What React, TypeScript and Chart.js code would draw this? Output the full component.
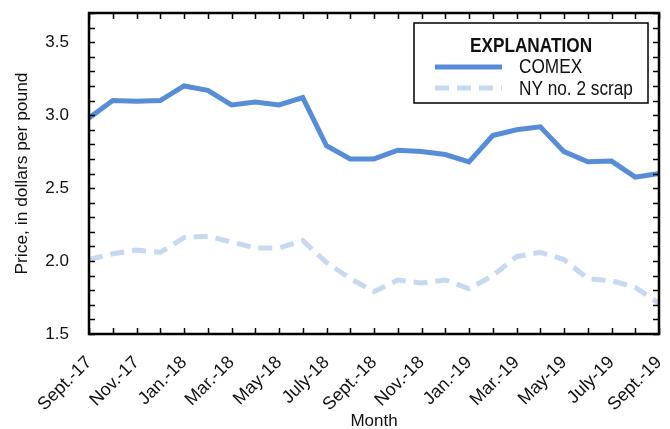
import React, { useEffect, useRef } from "react";
import { Chart, registerables } from "chart.js";

Chart.register(...registerables);

const months = [
  "Sept.-17", "Oct.-17", "Nov.-17", "Dec.-17", "Jan.-18", "Feb.-18", "Mar.-18",
  "Apr.-18", "May-18", "June-18", "July-18", "Aug.-18", "Sept.-18", "Oct.-18",
  "Nov.-18", "Dec.-18", "Jan.-19", "Feb.-19", "Mar.-19", "Apr.-19", "May-19",
  "June-19", "July-19", "Aug.-19", "Sept.-19",
];

const comex = [
  2.98, 3.10, 3.095, 3.10, 3.20, 3.17, 3.07, 3.09, 3.07, 3.12, 2.79, 2.70, 2.70,
  2.76, 2.75, 2.73, 2.68, 2.86, 2.90, 2.92, 2.75, 2.68, 2.685, 2.575, 2.60,
];

const nyScrap = [
  2.01, 2.05, 2.075, 2.06, 2.16, 2.17, 2.13, 2.09, 2.09, 2.14, 1.99, 1.88, 1.79,
  1.87, 1.85, 1.87, 1.81, 1.90, 2.03, 2.06, 2.01, 1.88, 1.865, 1.82, 1.71,
];

const yTickValues = [1.5, 2.0, 2.5, 3.0, 3.5];

const legendTitle = "EXPLANATION";
const legendLabels = ["COMEX", "NY no. 2 scrap"];

const COMEX_COLOR = "rgb(86,141,214)";
const NY_COLOR = "rgb(198,217,240)";
const SANS = "'Liberation Sans', Arial, sans-serif";

const framePlugin = {
  id: "frame",
  afterDatasetsDraw(chart: any) {
    const { ctx, chartArea } = chart;
    const { left, right, top, bottom } = chartArea;
    const x = chart.scales.x;
    const y = chart.scales.y;
    ctx.save();
    ctx.strokeStyle = "#000";
    ctx.lineWidth = 1.5;
    ctx.beginPath();
    for (let i = 0; i <= 22; i++) {
      const v = 1.5 + i * 0.1;
      const py = Math.round(y.getPixelForValue(v)) + 0.5;
      ctx.moveTo(left, py);
      ctx.lineTo(left + 6, py);
      ctx.moveTo(right, py);
      ctx.lineTo(right - 6, py);
    }
    for (let i = 0; i < months.length; i++) {
      const px = Math.round(x.getPixelForValue(i)) + 0.5;
      ctx.moveTo(px, top);
      ctx.lineTo(px, top + 6);
      ctx.moveTo(px, bottom);
      ctx.lineTo(px, bottom - 6);
    }
    ctx.stroke();
    ctx.lineWidth = 2.5;
    ctx.strokeRect(left, top, right - left, bottom - top);

    // legend ("EXPLANATION" box)
    const bx = 414, by = 23, bw = 234, bh = 80;
    ctx.fillStyle = "#fff";
    ctx.fillRect(bx, by, bw, bh);
    ctx.lineWidth = 1.5;
    ctx.strokeRect(bx, by, bw, bh);
    ctx.fillStyle = "#111";
    ctx.textBaseline = "middle";
    const narrowText = (t: string, tx: number, ty: number, font: string, align: string) => {
      ctx.save();
      ctx.font = font;
      ctx.textAlign = align;
      ctx.translate(tx, ty);
      ctx.scale(0.82, 1);
      ctx.fillText(t, 0, 0);
      ctx.restore();
    };
    narrowText(legendTitle, 531, 46, `bold 21px ${SANS}`, "center");
    narrowText(legendLabels[0], 519, 67, `21px ${SANS}`, "left");
    narrowText(legendLabels[1], 519, 89, `21px ${SANS}`, "left");
    ctx.lineWidth = 5;
    ctx.strokeStyle = COMEX_COLOR;
    ctx.beginPath();
    ctx.moveTo(435, 67);
    ctx.lineTo(502, 67);
    ctx.stroke();
    ctx.strokeStyle = NY_COLOR;
    ctx.setLineDash([14, 8]);
    ctx.beginPath();
    ctx.moveTo(435, 88);
    ctx.lineTo(502, 88);
    ctx.stroke();
    ctx.restore();
  },
};

export default function App() {
  const ref = useRef<HTMLCanvasElement>(null);
  useEffect(() => {
    const chart = new Chart(ref.current!, {
      type: "line",
      data: {
        labels: months,
        datasets: [
          {
            label: legendLabels[0],
            data: comex,
            borderColor: COMEX_COLOR,
            borderWidth: 5,
            pointRadius: 0,
            tension: 0,
          },
          {
            label: legendLabels[1],
            data: nyScrap,
            borderColor: NY_COLOR,
            borderWidth: 5,
            borderDash: [14, 8],
            pointRadius: 0,
            tension: 0,
          },
        ],
      },
      options: {
        animation: false,
        responsive: false,
        layout: { padding: { top: 13, right: 11, left: 0, bottom: 0 } },
        plugins: { legend: { display: false }, tooltip: { enabled: false } },
        scales: {
          x: {
            type: "category",
            offset: false,
            grid: { display: false, drawTicks: false },
            border: { display: false },
            ticks: {
              autoSkip: false,
              minRotation: 45,
              maxRotation: 45,
              padding: 18,
              color: "#111",
              font: { family: SANS, size: 18 },
              callback: (_v: any, i: number) => (i % 2 === 0 ? months[i] : ""),
            },
            title: {
              display: true,
              text: "Month",
              color: "#111",
              font: { family: SANS, size: 17 },
              padding: { top: 0, bottom: -3 },
            },
            afterFit: (s: any) => {
              s.height = 95;
              s.paddingLeft = 0;
              s.paddingRight = 0;
            },
          },
          y: {
            min: 1.5,
            max: 3.7,
            grid: { display: false, drawTicks: true, tickLength: 20 },
            border: { display: false },
            afterBuildTicks: (s: any) => {
              s.ticks = yTickValues.map((v) => ({ value: v }));
            },
            ticks: {
              padding: 0,
              color: "#111",
              font: { family: SANS, size: 17 },
              callback: (v: any) => Number(v).toFixed(1),
            },
            title: {
              display: true,
              text: "Price, in dollars per pound",
              color: "#111",
              font: { family: SANS, size: 17.4 },
              padding: { top: 12, bottom: 0 },
            },
            afterFit: (s: any) => {
              s.width = 89;
              s.paddingTop = 0;
              s.paddingBottom = 0;
            },
          },
        },
      },
      plugins: [framePlugin],
    });
    return () => chart.destroy();
  }, []);
  return (
    <div style={{ position: "absolute", left: 0, top: 0, width: 670, height: 429 }}>
      <canvas ref={ref} width={670} height={429} />
    </div>
  );
}
